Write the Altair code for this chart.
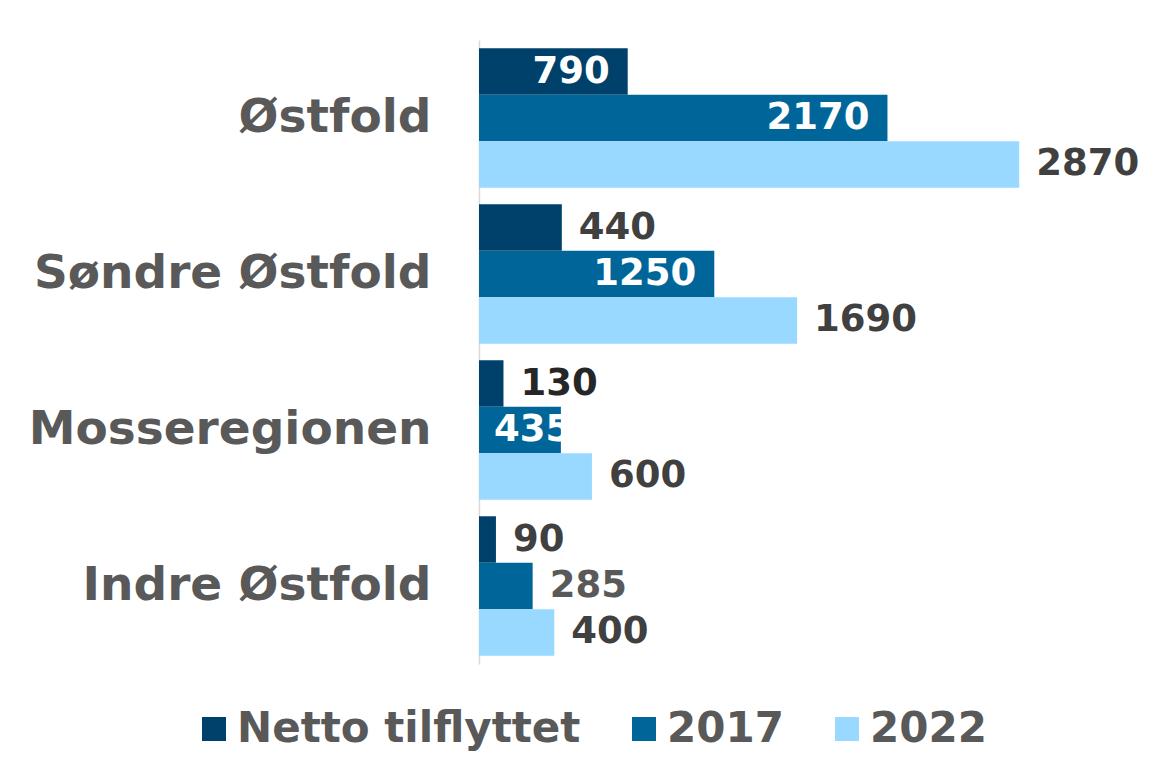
import altair as alt
import pandas as pd

regions = ["Østfold", "Søndre Østfold", "Mosseregionen", "Indre Østfold"]
series = ["Netto tilflyttet", "2017", "2022"]
netto = [790, 440, 130, 90]
y2017 = [2170, 1250, 435, 285]
y2022 = [2870, 1690, 600, 400]
colors = ["#00416B", "#006699", "#99D9FF"]

# label placement (as in the original Excel chart)
inside_labels = {("Østfold", "Netto tilflyttet"), ("Østfold", "2017"), ("Søndre Østfold", "2017")}
clipped_labels = {("Mosseregionen", "2017")}
label_colors = {("Mosseregionen", "Netto tilflyttet"): "#262626",
                ("Indre Østfold", "2017"): "#595959"}

rows = []
for i, r in enumerate(regions):
    for s, vals in zip(series, [netto, y2017, y2022]):
        key = (r, s)
        if key in inside_labels:
            place = "inside"
        elif key in clipped_labels:
            place = "clipped"
        else:
            place = "outside"
        rows.append({"region": r, "series": s, "value": vals[i], "label": str(vals[i]),
                     "place": place, "lcolor": label_colors.get(key, "#404040")})
df = pd.DataFrame(rows)

FONT = "DejaVu Sans"

base = alt.Chart(df)

y_enc = alt.Y("region:N", sort=regions,
              scale=alt.Scale(paddingInner=0.106, paddingOuter=0.053),
              axis=alt.Axis(title=None, ticks=False, labelFontSize=47, labelFont=FONT,
                            labelFontWeight="bold", labelColor="#595959", labelPadding=48,
                            domainColor="#D9D9D9", domainWidth=1.5, labelLimit=0))
yoff = alt.YOffset("series:N", sort=series, scale=alt.Scale(paddingInner=0, paddingOuter=0))
x_enc = alt.X("value:Q", scale=alt.Scale(domain=[0, 3400], nice=False), axis=None)

bars = base.mark_bar().encode(
    x=x_enc, y=y_enc, yOffset=yoff,
    color=alt.Color("series:N", sort=series,
                    scale=alt.Scale(domain=series, range=colors),
                    legend=alt.Legend(orient="none", legendX=-286, legendY=668,
                                      direction="horizontal", title=None,
                                      symbolType="square", symbolSize=576,
                                      symbolStrokeWidth=0, labelFont=FONT,
                                      labelFontSize=42, labelFontWeight="bold",
                                      labelColor="#595959", labelOffset=2,
                                      columnPadding=42, labelLimit=0)),
)

txt_props = dict(font=FONT, fontSize=37, fontWeight="bold", baseline="middle")

outside = base.transform_filter(alt.datum.place == "outside").mark_text(
    align="left", dx=17, **txt_props).encode(
    x=x_enc, y=alt.Y("region:N", sort=regions), yOffset=yoff, text="label:N",
    color=alt.Color("lcolor:N", scale=None))

inside = base.transform_filter(alt.datum.place == "inside").mark_text(
    align="right", dx=-18, color="white", **txt_props).encode(
    x=x_enc, y=alt.Y("region:N", sort=regions), yOffset=yoff, text="label:N")

clipped = base.transform_filter(alt.datum.place == "clipped").mark_text(
    align="left", dx=15, color="white", **txt_props).encode(
    x=alt.datum(0), y=alt.Y("region:N", sort=regions), yOffset=yoff, text="label:N")

chart = alt.layer(bars, outside, inside, clipped).properties(
    width=640, height=624,
    padding={"left": 20, "top": 32, "right": 0, "bottom": 10},
).configure(background="white").configure_view(stroke=None)

chart.save("out.html", embed_options={"renderer": "svg", "actions": False})
